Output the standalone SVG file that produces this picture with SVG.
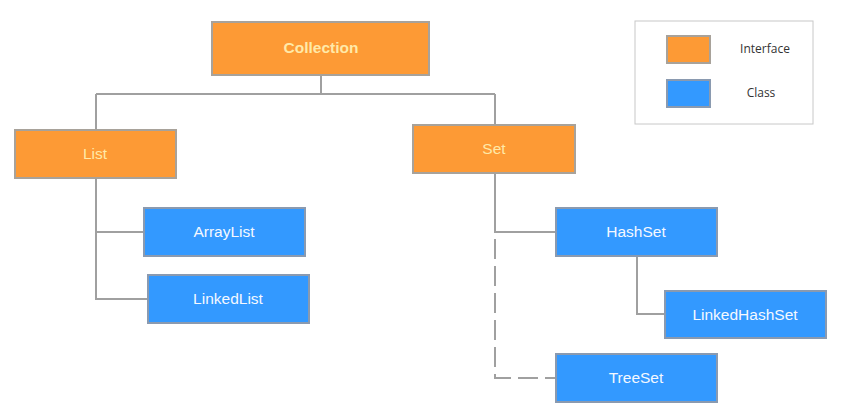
<svg xmlns="http://www.w3.org/2000/svg" width="848" height="420" viewBox="0 0 848 420">
<style>
.iface{fill:#FD9A35;stroke:#A8A29A;stroke-width:2}
.cls{fill:#3399FF;stroke:#8A9AB0;stroke-width:2}
.lbl{font-family:"Liberation Sans",Arial,sans-serif;font-size:15.5px;text-anchor:middle;dominant-baseline:central}
.il{fill:#FFE9A8}
.cl{fill:#F4F8FF}
.conn{fill:none;stroke:#A0A0A0;stroke-width:2}
.dash{stroke-dasharray:20 7}
.leg{font-family:"Open Sans","Noto Sans",sans-serif;font-size:12px;fill:#333;text-anchor:middle;dominant-baseline:central}
</style>
<rect width="848" height="420" fill="#fff"/>
<g id="connectors">
<path class="conn" d="M321 75V94M96 94H495M96 94V130M495 94V125"/>
<path class="conn" d="M96 178V299H148M96 232H144"/>
<path class="conn" d="M495 173V232H556"/>
<path class="conn" d="M637 256V314H665"/>
<path class="conn dash" d="M495 239V378H556"/>
</g>
<g id="collection"><rect class="iface" x="212" y="22" width="217" height="53"/><text class="lbl il" x="321" y="47" font-weight="bold" font-size="16.5">Collection</text></g>
<g id="list"><rect class="iface" x="15" y="130" width="161" height="48"/><text class="lbl il" x="95" y="153">List</text></g>
<g id="set"><rect class="iface" x="413" y="125" width="162" height="48"/><text class="lbl il" x="494" y="148">Set</text></g>
<g id="arraylist"><rect class="cls" x="144" y="208" width="161" height="48"/><text class="lbl cl" x="224" y="231">ArrayList</text></g>
<g id="linkedlist"><rect class="cls" x="148" y="275" width="161" height="48"/><text class="lbl cl" x="228" y="298">LinkedList</text></g>
<g id="hashset"><rect class="cls" x="556" y="208" width="161" height="48"/><text class="lbl cl" x="636" y="231">HashSet</text></g>
<g id="linkedhashset"><rect class="cls" x="665" y="291" width="161" height="47"/><text class="lbl cl" x="745" y="314">LinkedHashSet</text></g>
<g id="treeset"><rect class="cls" x="556" y="354" width="161" height="48"/><text class="lbl cl" x="636" y="377">TreeSet</text></g>
<g id="legend">
<rect x="635" y="21" width="178" height="103" fill="#fff" stroke="#C8C8C8" stroke-width="1"/>
<rect class="iface" x="667" y="36" width="43" height="27"/>
<text class="leg" x="765" y="48">Interface</text>
<rect class="cls" x="667" y="80" width="43" height="27"/>
<text class="leg" x="761" y="92">Class</text>
</g>
</svg>
